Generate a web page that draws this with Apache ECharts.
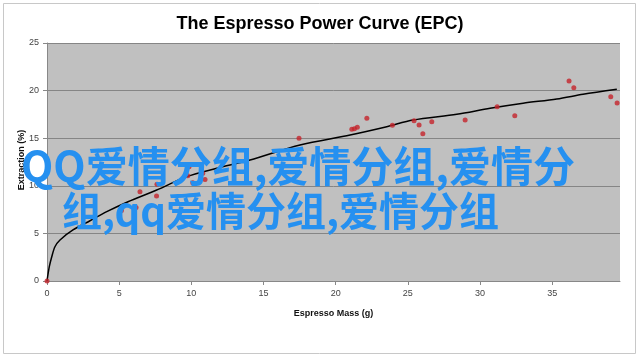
<!DOCTYPE html>
<html>
<head>
<meta charset="utf-8">
<script src="https://cdn.jsdelivr.net/npm/echarts@6/dist/echarts.min.js"></script>
<style>html,body{margin:0;padding:0;background:#fff}#c{width:640px;height:358px}</style>
</head>
<body>
<div id="c"></div>
<script>
// Measured shots: espresso mass (g) and extraction (%)
const shotMass = [0, 5.16, 6.17, 6.44, 7.59, 7.62, 9.84, 9.75, 10.10, 10.79, 10.95, 17.46, 21.12, 21.30, 21.50, 22.16, 23.93, 25.43, 25.78, 26.04, 26.66, 28.97, 31.19, 32.41, 36.17, 36.50, 39.06, 39.50];
const shotYield = [0, 7.41, 7.72, 9.38, 8.93, 10.16, 12.0, 11.06, 10.33, 11.31, 10.66, 14.99, 15.93, 16.0, 16.15, 17.09, 16.36, 16.84, 16.39, 15.47, 16.73, 16.91, 18.31, 17.36, 21.0, 20.3, 19.36, 18.7];
// Power curve
const curveMass = [0, 0.16, 0.33, 0.55, 0.9, 1.8, 2.98, 4.14, 5.61, 7.6, 9.68, 11.76, 14.07, 17.53, 21.0, 23.54, 25.36, 28.39, 30.7, 32.99, 35.32, 37.14, 39.48];
const curveYield = [0, 1.5, 2.55, 3.6, 4.31, 5.36, 6.33, 7.28, 8.33, 9.56, 10.96, 11.84, 12.71, 14.29, 15.34, 16.21, 16.91, 17.51, 18.14, 18.67, 19.12, 19.61, 20.14];
const xTicks = [0, 5, 10, 15, 20, 25, 30, 35];
const yTicks = [0, 5, 10, 15, 20, 25];
const titleText = 'The Espresso Power Curve (EPC)';
const xName = 'Espresso Mass (g)';
const yName = 'Extraction (%)';
const overlayLines = ['QQ爱情分组,爱情分组,爱情分', '组,qq爱情分组,爱情分组'];

const chart = echarts.init(document.getElementById('c'));
const lbl = {fontFamily: 'Liberation Sans', fontSize: 9, color: '#444'};
chart.setOption({
  animation: false,
  backgroundColor: '#fff',
  title: {text: titleText, left: 'center', top: 10,
    textStyle: {fontFamily: 'Liberation Sans', fontSize: 18, fontWeight: 'bold', color: '#000'}},
  grid: {left: 47, top: 43, width: 573, height: 238, show: true, backgroundColor: '#c0c0c0', borderWidth: 0},
  xAxis: {type: 'value', min: 0, max: 39.7, interval: 5,
    name: xName, nameLocation: 'middle', nameGap: 28,
    nameTextStyle: {fontFamily: 'Liberation Sans', fontSize: 9, fontWeight: 'bold', color: '#111'},
    axisLine: {show: true, lineStyle: {color: '#888', width: 1}},
    axisTick: {show: true, length: 4, lineStyle: {color: '#888'}},
    axisLabel: Object.assign({margin: 8, showMaxLabel: false,
      formatter: v => xTicks.includes(v) ? String(v) : ''}, lbl),
    splitLine: {show: false}},
  yAxis: {type: 'value', min: 0, max: 25, interval: 5,
    axisLine: {show: true, lineStyle: {color: '#888', width: 1}},
    axisTick: {show: true, length: 4, lineStyle: {color: '#888'}},
    axisLabel: Object.assign({margin: 8, formatter: v => yTicks.includes(v) ? String(v) : ''}, lbl),
    splitLine: {show: true, lineStyle: {color: '#858585', width: 1}}},
  series: [
    {type: 'line', data: curveMass.map((m, i) => [m, curveYield[i]]), showSymbol: false, smooth: 0.3,
      lineStyle: {color: '#000', width: 1.5}, z: 2},
    {type: 'scatter', data: shotMass.map((m, i) => [m, shotYield[i]]), symbolSize: 5,
      itemStyle: {color: '#c4232b'}, z: 3}
  ],
  graphic: [
    {type: 'rect', shape: {x: 3.5, y: 3.5, width: 632, height: 350}, style: {fill: 'none', stroke: '#c8c8c8', lineWidth: 1}, z: 0, silent: true},
    {type: 'text', x: 22, y: 160, rotation: Math.PI / 2, z: 10,
      style: {text: yName, fill: '#111', font: 'bold 9px "Liberation Sans"', textAlign: 'center', textVerticalAlign: 'middle'}},
    {type: 'text', x: 21, y: 166, z: 100, style: {text: overlayLines[0], fill: '#2590f0', font: 'bold 42px "Noto Sans CJK SC"', textVerticalAlign: 'middle'}},
    {type: 'text', x: 62, y: 211, z: 100, style: {text: overlayLines[1], fill: '#2590f0', font: 'bold 40px "Noto Sans CJK SC"', textVerticalAlign: 'middle'}}
  ]
});
</script>
</body>
</html>
